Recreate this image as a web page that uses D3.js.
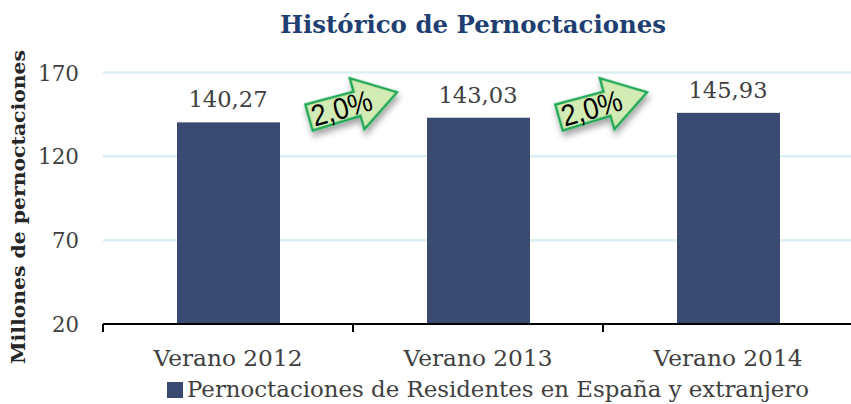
<!DOCTYPE html>
<html><head><meta charset="utf-8">
<script src="https://cdn.jsdelivr.net/npm/d3@7/dist/d3.min.js"></script>
<style>html,body{margin:0;padding:0;background:#fff}svg{display:block}text{font-family:"DejaVu Serif",serif}</style>
</head><body><svg id="c" width="851" height="404"></svg>
<script>
const categories=["Verano 2012","Verano 2013","Verano 2014"];
const values=[140.27,143.03,145.93];
const valueLabels=["140,27","143,03","145,93"];
const yTicks=[20,70,120,170];
const growthLabels=["2,0%","2,0%"];
const title="Histórico de Pernoctaciones";
const yTitle="Millones de pernoctaciones";
const legendLabel="Pernoctaciones de Residentes en España y extranjero";

const svg=d3.select("#c");
const defs=svg.append("defs");
const f=defs.append("filter").attr("id","sh").attr("x","-30%").attr("y","-30%").attr("width","160%").attr("height","170%");
f.append("feDropShadow").attr("dx",0).attr("dy",5).attr("stdDeviation",3).attr("flood-color","#000").attr("flood-opacity",0.35);

const x=d3.scaleBand().domain(categories).range([103,853]).paddingInner(0).paddingOuter(0);
const y=d3.scaleLinear().domain([20,170]).range([324,72.5]);
const barW=103;
const ink="#404040";

svg.append("g").selectAll("line").data(yTicks.filter(d=>d>20)).join("line")
 .attr("x1",103).attr("x2",851).attr("y1",d=>y(d)).attr("y2",d=>y(d))
 .attr("stroke","#dceff5").attr("stroke-width",2.5);

svg.append("g").selectAll("rect").data(values).join("rect")
 .attr("x",(d,i)=>x(categories[i])+x.bandwidth()/2-barW/2+0.5).attr("width",barW)
 .attr("y",d=>y(d)).attr("height",d=>y(20)-y(d)).attr("fill","#3b4a70");

const axis=svg.append("g");
axis.append("line").attr("x1",103).attr("x2",851).attr("y1",y(20)).attr("y2",y(20)).attr("stroke","#000").attr("stroke-width",2);
axis.selectAll(".t").data([...categories.map(c=>x(c)),x(categories[2])+x.bandwidth()]).join("line")
 .attr("x1",d=>d).attr("x2",d=>d).attr("y1",y(20)).attr("y2",y(20)+8).attr("stroke","#000").attr("stroke-width",2);

const T=(s,xp,yp,size,o={})=>svg.append("text").text(s).attr("x",xp).attr("y",yp)
 .attr("font-size",size).attr("fill",o.fill||ink).attr("text-anchor",o.anchor||"middle")
 .attr("font-weight",o.weight||"normal").attr("textLength",o.len||null).attr("lengthAdjust","spacingAndGlyphs");

T(title,473,33,25,{fill:"#1f3f73",weight:"bold",len:386});
yTicks.forEach(d=>T(String(d),79,y(d)+8,23,{anchor:"end",len:String(d).length===2?27:41}));
categories.forEach(c=>T(c,x(c)+x.bandwidth()/2,366,23,{len:149}));
values.forEach((d,i)=>T(valueLabels[i],x(categories[i])+x.bandwidth()/2,y(d)-15,23,{len:79}));

svg.append("text").text(yTitle).attr("transform","translate(25,207) rotate(-90)")
 .attr("text-anchor","middle").attr("font-size",19).attr("font-weight","bold").attr("fill","#262626")
 .attr("textLength",314).attr("lengthAdjust","spacingAndGlyphs");

svg.append("rect").attr("x",167).attr("y",382).attr("width",16).attr("height",16).attr("fill","#3b4a70");
T(legendLabel,187,397,23,{anchor:"start",len:622});

const arrowOrigins=[309,559];
const arrowShape=[[0,-13.5],[50,-12.5],[50,-26.5],[91.6,0],[50,26.5],[50,12.5],[0,13.5]];
const line=d3.line();
growthLabels.forEach((s,i)=>{
 const g=svg.append("g").attr("transform",`translate(${arrowOrigins[i]},117.5) rotate(-16)`);
 g.append("path").attr("d",line(arrowShape)+"Z").attr("fill","#d3ecb5").attr("stroke","#1fa855").attr("stroke-width",2.5)
  .attr("stroke-linejoin","miter").attr("filter","url(#sh)");
 g.append("text").text(s).attr("x",34).attr("y",10.5).attr("text-anchor","middle").attr("font-size",30)
  .style("font-family","'Liberation Sans',sans-serif").attr("fill","#000").attr("textLength",62).attr("lengthAdjust","spacingAndGlyphs");
});
</script></body></html>
